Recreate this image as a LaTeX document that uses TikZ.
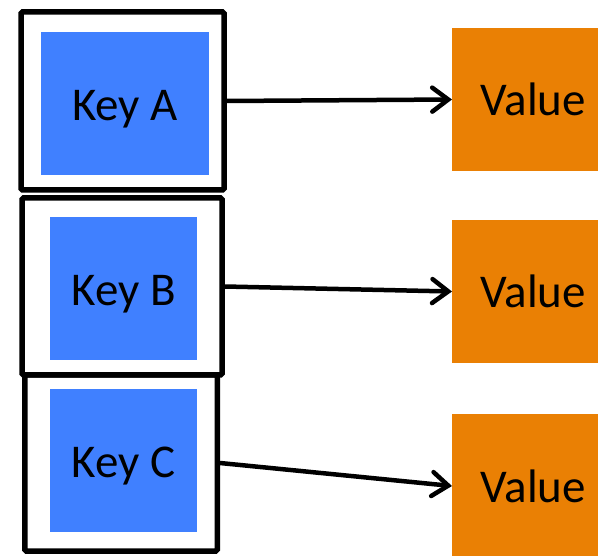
\documentclass[tikz,border=0pt]{standalone}
\usepackage{fontspec}
\setmainfont{Carlito}
\usetikzlibrary{arrows.meta}
\definecolor{keyblue}{RGB}{64,128,255}
\definecolor{valorange}{RGB}{234,128,4}

\begin{document}
\begin{tikzpicture}[x=1pt,y=-1pt]
  \tikzset{KeyStyle/.style = {%
      rectangle,
      fill= keyblue,
      minimum height= 143pt,
      text depth= 0pt,
      font= \fontsize{47}{56}\selectfont},
    FrameStyle/.style = {%
      rectangle,
      draw= black,
      line width= 5.5pt,
      rounded corners= 1.5pt},
    ValStyle/.style = {%
      rectangle,
      fill= valorange,
      anchor= west,
      minimum width= 162pt,
      minimum height= 143pt,
      font= \fontsize{47}{56}\selectfont},
    LinkStyle/.style = {%
      line width= 4.5pt,
      -{Straight Barb[length=16pt,width=24pt,line cap=round]}}}
  \clip (0,0) rectangle (598,556);
  % keys
  \node[KeyStyle,minimum width=168pt] (keyA) at (125,103.5) {\raisebox{-3pt}{Key A}};
  \node[KeyStyle,minimum width=147pt] (keyB) at (123.5,288.5) {\raisebox{-3pt}{Key B}};
  \node[KeyStyle,minimum width=147pt] (keyC) at (123.5,460.5) {\raisebox{-3pt}{Key C}};
  % frames round the keys
  \node[FrameStyle,minimum width=203pt,minimum height=178pt] (frameA) at (122.5,101) {};
  \node[FrameStyle,minimum width=200pt,minimum height=177pt] (frameB) at (122,286.5) {};
  \node[FrameStyle,minimum width=192.5pt,minimum height=176pt] (frameC) at (121,463) {};
  % values
  \node[ValStyle] (valA) at (452,99.5) {\raisebox{-3pt}{Value}};
  \node[ValStyle] (valB) at (452,291.5) {\raisebox{-3pt}{Value}};
  \node[ValStyle] (valC) at (452,486) {\raisebox{-3pt}{Value}};
  % links
  \draw[LinkStyle] (frameA.east) -- (valA.west);
  \draw[LinkStyle] (frameB.east) -- (valB.west);
  \draw[LinkStyle] (frameC.east) -- (valC.west);
\end{tikzpicture}
\end{document}
